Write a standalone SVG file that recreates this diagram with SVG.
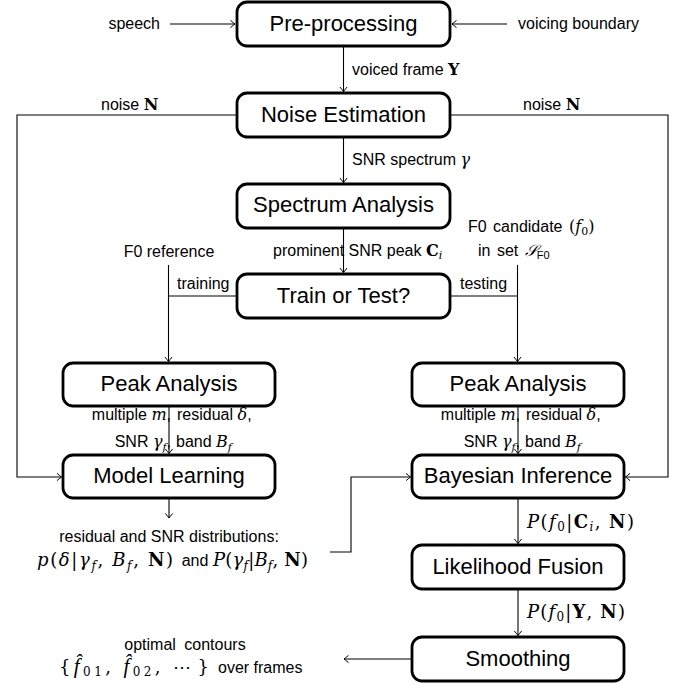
<svg xmlns="http://www.w3.org/2000/svg" width="684" height="684" viewBox="0 0 684 684">
<defs>
<style>
.box{fill:#fff;stroke:#000;stroke-width:2.8}
.ln{fill:none;stroke:#000;stroke-width:1.1}
.lbl{font-family:"Liberation Sans",Arial,sans-serif;font-size:22px;text-anchor:middle;fill:#000}
.sm{font-family:"Liberation Sans",Arial,sans-serif;font-size:16px;fill:#000}
.mt{font-family:"DejaVu Serif","Liberation Serif",serif;font-size:18px;fill:#000}
.mi{font-family:"DejaVu Serif","Liberation Serif",serif;font-style:italic}
.mr{font-family:"DejaVu Serif","Liberation Serif",serif;font-style:normal}
.mb{font-family:"DejaVu Serif","Liberation Serif",serif;font-weight:bold;font-style:normal}
.fh{font-family:"Liberation Serif",serif;font-style:italic;font-size:21px}
.sub{font-size:12px}
.sm .sub{font-size:11px}
.mid{text-anchor:middle}
.end{text-anchor:end}
</style>
<marker id="ar" viewBox="-6 -5 7 10" refX="0" refY="0" markerWidth="7" markerHeight="10" orient="auto" markerUnits="userSpaceOnUse">
<path d="M-4.5,-3.6 Q-1.2,-0.9 0,0 Q-1.2,0.9 -4.5,3.6" fill="none" stroke="#000" stroke-width="1"/>
</marker>
</defs>
<rect width="684" height="684" fill="#fff"/>

<g id="connectors">
<path class="ln" d="M170,24 H235" marker-end="url(#ar)"/>
<path class="ln" d="M507,24 H452" marker-end="url(#ar)"/>
<path class="ln" d="M343.5,46 V91.5" marker-end="url(#ar)"/>
<path class="ln" d="M237,115 H17 V477 H61.5" marker-end="url(#ar)"/>
<path class="ln" d="M450,115 H668 V477 H625.5" marker-end="url(#ar)"/>
<path class="ln" d="M343.5,137 V182.5" marker-end="url(#ar)"/>
<path class="ln" d="M343.5,228 V272.5" marker-end="url(#ar)"/>
<path class="ln" d="M237,296 H168.5"/>
<path class="ln" d="M168.5,265 V361.5" marker-end="url(#ar)"/>
<path class="ln" d="M450,296 H517.5"/>
<path class="ln" d="M517.5,265 V361.5" marker-end="url(#ar)"/>
<path class="ln" d="M169,406 V453.5" marker-end="url(#ar)"/>
<path class="ln" d="M518,406 V453.5" marker-end="url(#ar)"/>
<path class="ln" d="M169,498 V518" marker-end="url(#ar)"/>
<path class="ln" d="M330,552 H351 V477 H410.5" marker-end="url(#ar)"/>
<path class="ln" d="M518,498 V543.5" marker-end="url(#ar)"/>
<path class="ln" d="M518,589 V635.5" marker-end="url(#ar)"/>
<path class="ln" d="M412,659 H344" marker-end="url(#ar)"/>

<text class="sm end" x="160" y="29">speech</text>
<text class="sm" x="518" y="29">voicing boundary</text>
<text class="sm" x="352" y="75">voiced frame <tspan class="mb">Y</tspan></text>
<text class="sm" x="101" y="110">noise <tspan class="mb">N</tspan></text>
<text class="sm" x="523" y="110">noise <tspan class="mb">N</tspan></text>
<text class="sm" x="352" y="165">SNR spectrum <tspan class="mi">γ</tspan></text>
<text class="sm" x="273" y="256">prominent SNR peak <tspan class="mb">C</tspan><tspan class="mi sub" dy="3">i</tspan></text>
<text class="sm mid" x="169" y="257">F0 reference</text>
<text class="sm" x="468" y="232" word-spacing="2">F0 candidate <tspan class="mr">(</tspan><tspan class="mi">f</tspan><tspan class="mr sub" dy="3">0</tspan><tspan class="mr" dy="-3">)</tspan></text>
<text class="sm" x="478" y="256" word-spacing="2">in set <tspan class="mi">𝒮</tspan><tspan class="sub" dy="3">F0</tspan></text>
<text class="sm" x="177" y="289">training</text>
<text class="sm" x="460" y="289">testing</text>

<text class="sm end" x="171" y="420">multiple <tspan class="mi">m</tspan>,</text>
<text class="sm" x="177" y="420">residual <tspan class="mi">δ</tspan>,</text>
<text class="sm end" x="171" y="447">SNR <tspan class="mi">γ</tspan><tspan class="mi sub" dy="4">f</tspan><tspan dy="-4">,</tspan></text>
<text class="sm" x="176" y="447">band <tspan class="mi">B</tspan><tspan class="mi sub" dy="4">f</tspan></text>

<text class="sm end" x="520" y="420">multiple <tspan class="mi">m</tspan>,</text>
<text class="sm" x="526" y="420">residual <tspan class="mi">δ</tspan>,</text>
<text class="sm end" x="520" y="447">SNR <tspan class="mi">γ</tspan><tspan class="mi sub" dy="4">f</tspan><tspan dy="-4">,</tspan></text>
<text class="sm" x="525" y="447">band <tspan class="mi">B</tspan><tspan class="mi sub" dy="4">f</tspan></text>

<text class="sm mid" x="169" y="542">residual and SNR distributions:</text>
<text class="mt" x="37" y="566" textLength="136" lengthAdjust="spacing"><tspan class="mi">p</tspan><tspan class="mr">(</tspan><tspan class="mi">δ</tspan><tspan class="mr">|</tspan><tspan class="mi">γ</tspan><tspan class="mi sub" dy="4">f</tspan><tspan class="mr" dy="-4">, </tspan><tspan class="mi">B</tspan><tspan class="mi sub" dy="4">f</tspan><tspan class="mr" dy="-4">, </tspan><tspan class="mb">N</tspan><tspan class="mr">)</tspan></text>
<text class="sm mid" x="195" y="566">and</text>
<text class="mt" x="213" y="566" textLength="95" lengthAdjust="spacing"><tspan class="mi">P</tspan><tspan class="mr">(</tspan><tspan class="mi">γ</tspan><tspan class="mi sub" dy="4">f</tspan><tspan class="mr" dy="-4">|</tspan><tspan class="mi">B</tspan><tspan class="mi sub" dy="4">f</tspan><tspan class="mr" dy="-4">, </tspan><tspan class="mb">N</tspan><tspan class="mr">)</tspan></text>

<text class="mt" x="527" y="528" textLength="107" lengthAdjust="spacing"><tspan class="mi">P</tspan><tspan class="mr">(</tspan><tspan class="mi">f</tspan><tspan class="mr sub" dy="3">0</tspan><tspan class="mr" dy="-3">|</tspan><tspan class="mb">C</tspan><tspan class="mi sub" dy="3">i</tspan><tspan class="mr" dy="-3">, </tspan><tspan class="mb">N</tspan><tspan class="mr">)</tspan></text>
<text class="mt" x="527" y="618" textLength="98" lengthAdjust="spacing"><tspan class="mi">P</tspan><tspan class="mr">(</tspan><tspan class="mi">f</tspan><tspan class="mr sub" dy="3">0</tspan><tspan class="mr" dy="-3">|</tspan><tspan class="mb">Y</tspan><tspan class="mr">, </tspan><tspan class="mb">N</tspan><tspan class="mr">)</tspan></text>

<text class="sm mid" x="185" y="650" word-spacing="4">optimal contours</text>
<text class="mt" x="59" y="673" textLength="150" lengthAdjust="spacing"><tspan class="mr">{</tspan><tspan class="fh">f̂</tspan><tspan class="mr sub" dy="3">01</tspan><tspan class="mr" dy="-3">, </tspan><tspan class="fh">f̂</tspan><tspan class="mr sub" dy="3">02</tspan><tspan class="mr" dy="-3">, ⋯</tspan><tspan class="mr" dx="3">}</tspan></text>
<text class="sm" x="218" y="673">over frames</text>
</g>

<g id="pre"><rect class="box" x="237" y="2" width="213" height="44" rx="10"/><text class="lbl" x="343.5" y="31">Pre-processing</text></g>
<g id="noise"><rect class="box" x="237" y="93" width="213" height="44" rx="10"/><text class="lbl" x="343.5" y="122">Noise Estimation</text></g>
<g id="spectrum"><rect class="box" x="237" y="184" width="213" height="44" rx="10"/><text class="lbl" x="343.5" y="212">Spectrum Analysis</text></g>
<g id="train"><rect class="box" x="237" y="274" width="213" height="44" rx="10"/><text class="lbl" x="343.5" y="303">Train or Test?</text></g>
<g id="peakL"><rect class="box" x="63" y="363" width="212" height="43" rx="10"/><text class="lbl" x="169" y="391">Peak Analysis</text></g>
<g id="peakR"><rect class="box" x="412" y="363" width="212" height="43" rx="10"/><text class="lbl" x="518" y="391">Peak Analysis</text></g>
<g id="model"><rect class="box" x="63" y="455" width="212" height="43" rx="10"/><text class="lbl" x="169" y="483">Model Learning</text></g>
<g id="bayes"><rect class="box" x="412" y="455" width="212" height="43" rx="10"/><text class="lbl" x="518" y="483">Bayesian Inference</text></g>
<g id="fusion"><rect class="box" x="412" y="545" width="212" height="44" rx="10"/><text class="lbl" x="518" y="574">Likelihood Fusion</text></g>
<g id="smooth"><rect class="box" x="412" y="637" width="212" height="44" rx="10"/><text class="lbl" x="518" y="666">Smoothing</text></g>
</svg>
